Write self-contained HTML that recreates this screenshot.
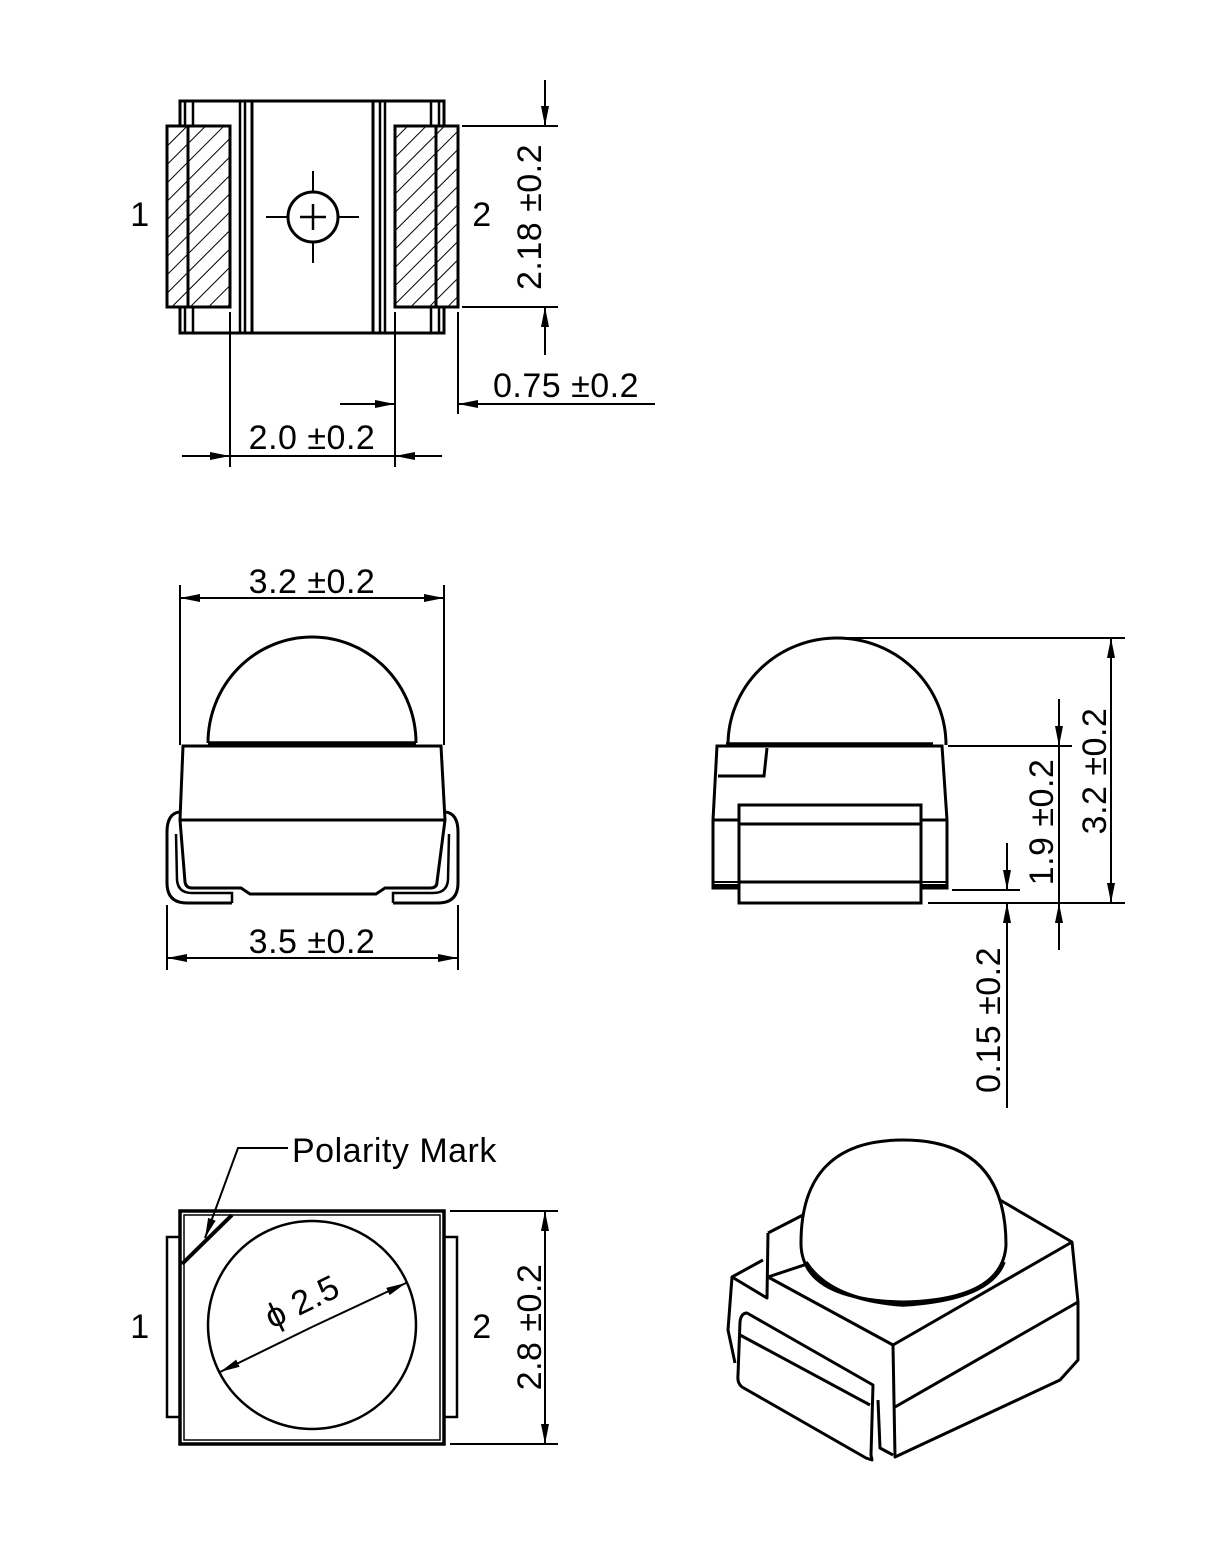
<!DOCTYPE html>
<html><head><style>
html,body{margin:0;padding:0;background:#fff}
svg{display:block}
text{font-family:"Liberation Sans",sans-serif;font-size:34px;fill:#000;font-weight:normal;letter-spacing:0.5px}
</style></head><body>
<svg width="1229" height="1558" viewBox="0 0 1229 1558" xmlns="http://www.w3.org/2000/svg">
<defs>
<marker id="a" viewBox="0 0 20 10" refX="20" refY="5" markerWidth="20" markerHeight="10" markerUnits="userSpaceOnUse" orient="auto"><path d="M0,1 L20,5 L0,9 Z" fill="#000"/></marker>
<pattern id="h" patternUnits="userSpaceOnUse" width="13" height="13" patternTransform="rotate(45)"><line x1="0" y1="0" x2="0" y2="13" stroke="#000" stroke-width="2"/></pattern>
</defs>
<g fill="none" stroke="#000" stroke-width="2">
<!-- TOP VIEW -->
<rect x="180" y="101" width="264" height="232" stroke-width="3"/>
<line x1="240" y1="101" x2="240" y2="333" stroke-width="2.5"/><line x1="245" y1="101" x2="245" y2="333" stroke-width="2.5"/><line x1="252" y1="101" x2="252" y2="333" stroke-width="3"/>
<line x1="373" y1="101" x2="373" y2="333" stroke-width="3"/><line x1="380" y1="101" x2="380" y2="333" stroke-width="2.5"/><line x1="385" y1="101" x2="385" y2="333" stroke-width="2.5"/>
<line x1="185" y1="101" x2="185" y2="333" stroke-width="2.5"/><line x1="193" y1="101" x2="193" y2="333" stroke-width="2.5"/>
<line x1="431" y1="101" x2="431" y2="333" stroke-width="2.5"/><line x1="439" y1="101" x2="439" y2="333" stroke-width="2.5"/>
<rect x="167" y="126" width="63" height="181" fill="#fff" stroke-width="3"/>
<rect x="167" y="126" width="63" height="181" fill="url(#h)" stroke-width="3"/>
<line x1="188" y1="126" x2="188" y2="307" stroke-width="3"/>
<rect x="395" y="126" width="63" height="181" fill="#fff" stroke-width="3"/>
<rect x="395" y="126" width="63" height="181" fill="url(#h)" stroke-width="3"/>
<line x1="436" y1="126" x2="436" y2="307" stroke-width="3"/>
<circle cx="313" cy="217" r="25" stroke-width="3"/>
<line x1="300" y1="217" x2="326" y2="217" stroke-width="2.5"/><line x1="313" y1="204" x2="313" y2="230" stroke-width="2.5"/>
<line x1="266" y1="217" x2="288" y2="217"/><line x1="338" y1="217" x2="359" y2="217"/>
<line x1="313" y1="171" x2="313" y2="192"/><line x1="313" y1="242" x2="313" y2="263"/>
<!-- dims top -->
<line x1="462" y1="126" x2="558" y2="126"/><line x1="462" y1="307" x2="558" y2="307"/>
<line x1="545" y1="80" x2="545" y2="126" marker-end="url(#a)"/>
<line x1="545" y1="355" x2="545" y2="307" marker-end="url(#a)"/>
<line x1="230" y1="312" x2="230" y2="467"/><line x1="395" y1="312" x2="395" y2="467"/><line x1="458" y1="312" x2="458" y2="414"/>
<line x1="182" y1="456" x2="230" y2="456" marker-end="url(#a)"/>
<line x1="442" y1="456" x2="395" y2="456" marker-end="url(#a)"/>
<line x1="230" y1="456" x2="395" y2="456"/>
<line x1="340" y1="404" x2="395" y2="404" marker-end="url(#a)"/>
<line x1="655" y1="404" x2="458" y2="404" marker-end="url(#a)"/>
<!-- FRONT VIEW -->
<path d="M208,743 A104,106 0 0 1 416,743" stroke-width="3"/>
<line x1="208" y1="743" x2="416" y2="743" stroke-width="3.5"/>
<path d="M183,746 L441,746 L445,820 L437,882 Q437,888 430,888 L385,888 L376,894 L250,894 L241,888 L192,888 Q186,888 185,882 L180,820 Z" stroke-width="3"/>
<line x1="180" y1="820" x2="445" y2="820" stroke-width="3"/>
<path d="M232,903 L187,903 Q167,903 167,883 L167,832 Q167,814 179,812" stroke-width="3"/>
<path d="M232,903 L232,893 L192,893 Q178,893 177,880 L176,834" stroke-width="2.5"/>
<path d="M393,903 L438,903 Q458,903 458,883 L458,832 Q458,814 446,812" stroke-width="3"/>
<path d="M393,903 L393,893 L433,893 Q447,893 448,880 L449,834" stroke-width="2.5"/>
<line x1="180" y1="585" x2="180" y2="745"/><line x1="444" y1="585" x2="444" y2="745"/>
<line x1="312" y1="598" x2="180" y2="598" marker-end="url(#a)"/><line x1="312" y1="598" x2="444" y2="598" marker-end="url(#a)"/>
<line x1="167" y1="905" x2="167" y2="970"/><line x1="458" y1="905" x2="458" y2="970"/>
<line x1="312" y1="958" x2="167" y2="958" marker-end="url(#a)"/><line x1="312" y1="958" x2="458" y2="958" marker-end="url(#a)"/>
<!-- SIDE VIEW -->
<path d="M728,745 A109,107 0 0 1 946,745" stroke-width="3"/>
<line x1="726" y1="744" x2="933" y2="744" stroke-width="3.5"/>
<path d="M717,746 L942,746 L947,820 L947,888 L713,888 L713,820 Z" stroke-width="3"/>
<line x1="713" y1="820" x2="739" y2="820" stroke-width="3"/><line x1="921" y1="820" x2="947" y2="820" stroke-width="3"/>
<path d="M718,776 L764,776 L767,748" stroke-width="3"/>
<rect x="739" y="805" width="182" height="98" fill="#fff" stroke-width="3"/>
<line x1="739" y1="824" x2="921" y2="824" stroke-width="3"/><line x1="739" y1="882" x2="921" y2="882" stroke-width="3"/>
<line x1="713" y1="882" x2="739" y2="882"/><line x1="921" y1="882" x2="947" y2="882"/>
<rect x="713" y="884" width="26" height="5" fill="#000" stroke="none"/><rect x="921" y="884" width="26" height="5" fill="#000" stroke="none"/>
<line x1="837" y1="638" x2="1125" y2="638"/>
<line x1="928" y1="903" x2="1125" y2="903"/>
<line x1="948" y1="746" x2="1072" y2="746"/>
<line x1="952" y1="890" x2="1020" y2="890"/>
<line x1="1111" y1="770" x2="1111" y2="638" marker-end="url(#a)"/><line x1="1111" y1="770" x2="1111" y2="903" marker-end="url(#a)"/>
<line x1="1059" y1="699" x2="1059" y2="746" marker-end="url(#a)"/><line x1="1059" y1="950" x2="1059" y2="903" marker-end="url(#a)"/>
<line x1="1059" y1="746" x2="1059" y2="903"/>
<line x1="1007" y1="843" x2="1007" y2="890" marker-end="url(#a)"/><line x1="1007" y1="1108" x2="1007" y2="903" marker-end="url(#a)"/>
<!-- BOTTOM VIEW -->
<rect x="180" y="1211" width="264" height="233" stroke-width="3.5"/>
<rect x="184" y="1215" width="256" height="225" stroke-width="1.5"/>
<rect x="167" y="1237" width="13" height="180" stroke-width="2.5"/><rect x="444" y="1237" width="13" height="180" stroke-width="2.5"/>
<circle cx="312" cy="1325" r="104" stroke-width="2.5"/>
<line x1="182" y1="1264" x2="232" y2="1215" stroke-width="4"/>
<line x1="312" y1="1327" x2="220" y2="1372" marker-end="url(#a)"/>
<line x1="312" y1="1327" x2="406" y2="1283" marker-end="url(#a)"/>
<polyline points="288,1148 238,1148 205,1238" marker-end="url(#a)"/>
<line x1="450" y1="1211" x2="558" y2="1211"/><line x1="450" y1="1444" x2="558" y2="1444"/>
<line x1="545" y1="1327" x2="545" y2="1211" marker-end="url(#a)"/><line x1="545" y1="1327" x2="545" y2="1444" marker-end="url(#a)"/>
<!-- 3D VIEW -->
<g stroke-width="3" stroke-linejoin="round">
<path d="M768,1233 L803,1215 M1000,1200 L1072,1242 L1078,1302 L1078,1360 L1060,1380 L895,1457 L893,1345 L768,1277 Z"/>
<path d="M893,1345 L1072,1242"/>
<path d="M895,1407 L1078,1302"/>
<path d="M768,1233 L767,1298 L732,1277 L763,1260"/>
<path d="M732,1277 L728,1330 L735,1363"/>
<path d="M747,1313 L873,1385 L871,1455 L872,1460 L866,1458 L742,1387 Q737,1383 738,1375 L740,1322 Q741,1313 747,1313 Z" fill="#fff"/>
<path d="M740,1335 L870,1405"/>
<path d="M878,1400 L880,1448 L893,1455"/>
<path d="M801,1245 Q800,1140 903,1140 Q1006,1140 1006,1245 Q1003,1300 903,1302 Q803,1300 801,1245 Z" fill="#fff"/>
<path d="M806,1262 Q830,1300 903,1305 Q990,1300 1004,1262" stroke-width="3.5"/>
</g>
</g>
<!-- TEXT -->
<text x="140" y="226" text-anchor="middle">1</text>
<text x="482" y="226" text-anchor="middle">2</text>
<text transform="translate(541,217) rotate(-90)" text-anchor="middle">2.18 ±0.2</text>
<text x="566" y="397" text-anchor="middle">0.75 ±0.2</text>
<text x="312" y="449" text-anchor="middle">2.0 ±0.2</text>
<text x="312" y="593" text-anchor="middle">3.2 ±0.2</text>
<text x="312" y="953" text-anchor="middle">3.5 ±0.2</text>
<text transform="translate(1053,822) rotate(-90)" text-anchor="middle">1.9 ±0.2</text>
<text transform="translate(1106,771) rotate(-90)" text-anchor="middle">3.2 ±0.2</text>
<text transform="translate(1000,1020) rotate(-90)" text-anchor="middle">0.15 ±0.2</text>
<text x="292" y="1162">Polarity Mark</text>
<text transform="translate(307,1312) rotate(-26)" text-anchor="middle">ϕ 2.5</text>
<text x="140" y="1338" text-anchor="middle">1</text>
<text x="482" y="1338" text-anchor="middle">2</text>
<text transform="translate(541,1327) rotate(-90)" text-anchor="middle">2.8 ±0.2</text>
</svg>
</body></html>
